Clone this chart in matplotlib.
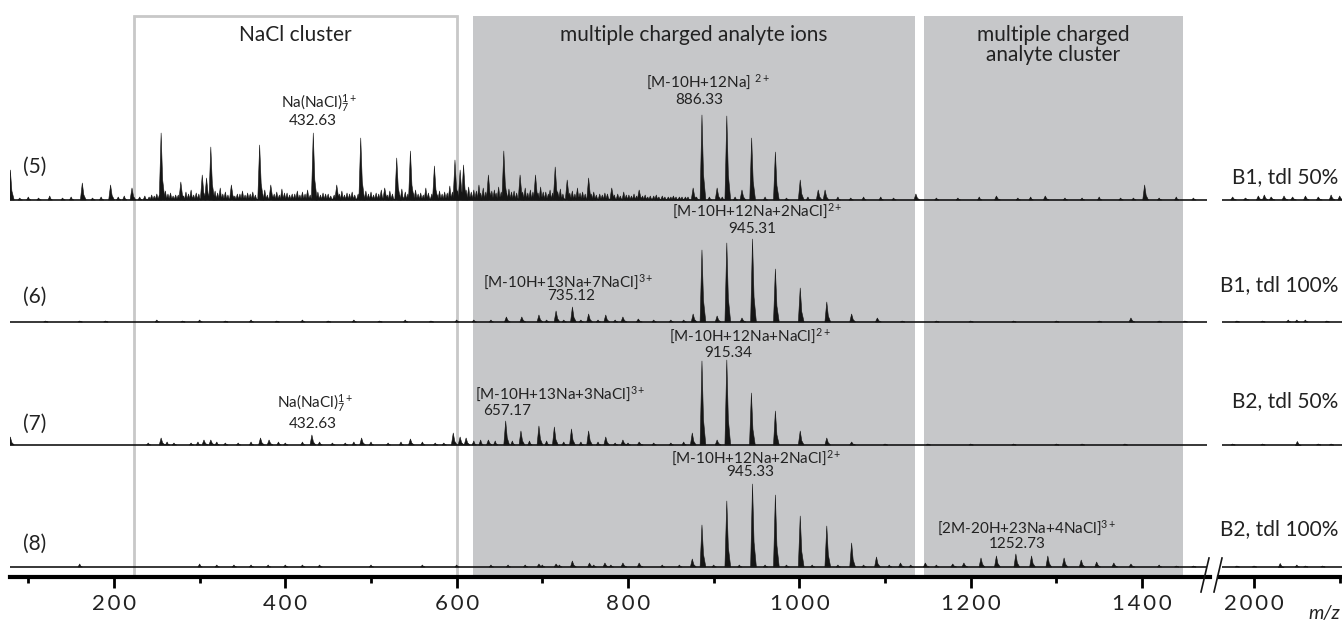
import numpy as np
import matplotlib
matplotlib.use("Agg")
import matplotlib.pyplot as plt
from matplotlib.lines import Line2D
from matplotlib.patches import Rectangle
from matplotlib.collections import PolyCollection
from matplotlib.ticker import FuncFormatter

plt.rcParams["font.family"] = ["Lato", "DejaVu Sans"]
plt.rcParams["mathtext.fontset"] = "custom"
plt.rcParams["mathtext.rm"] = "Lato"
plt.rcParams["mathtext.it"] = "Lato:italic"
plt.rcParams["mathtext.bf"] = "Lato:bold"

W, H = 1342, 621

# ── data: (m/z, intensity) of the peaks, per spectrum ─────────
PEAKS_5 = [(79, 30), (163, 17), (196, 15), (221, 12), (255, 67), (278, 18), (303, 25), (308, 22),
           (313, 53), (337, 15), (370, 55), (383, 15), (432.6, 67), (460, 15), (488, 62), (516, 12),
           (530, 42), (546, 49), (574, 34), (598, 40), (604, 30), (608, 35), (637, 25), (655, 49),
           (674, 25), (692, 25), (715, 33), (729, 20), (754, 22), (781, 12), (813, 10), (876, 12),
           (886.3, 85), (904, 12), (915.3, 84), (933, 10), (944.3, 62), (972, 48), (1001, 20),
           (1022, 10), (1030, 10), (1136, 6), (1230, 4), (1287, 4), (1403, 15),
           (1975, 3), (1990, 2), (2005, 4), (2012, 5), (2020, 3), (2035, 4), (2045, 3), (2060, 4),
           (2075, 3), (2090, 5), (2100, 4)]
NOISE_5 = [(90, 2), (100, 3), (112, 2), (125, 4), (140, 2), (150, 3), (175, 2), (185, 3), (205, 3),
           (212, 4), (230, 3), (236, 4), (244, 5), (250, 6), (260, 9), (266, 7), (272, 5), (284, 8),
           (290, 10), (296, 7), (318, 9), (324, 12), (330, 8), (344, 6), (350, 9), (356, 7), (362, 8),
           (376, 10), (390, 8), (396, 11), (402, 7), (408, 6), (414, 9), (420, 8), (426, 10), (438, 8),
           (444, 7), (450, 6), (466, 9), (472, 7), (478, 8), (494, 9), (500, 8), (506, 7), (512, 10),
           (522, 9), (536, 11), (540, 8), (552, 10), (558, 7), (564, 12), (580, 9), (586, 8), (592, 14),
           (614, 13), (620, 10), (626, 15), (631, 12), (644, 10), (649, 13), (661, 11), (667, 9),
           (680, 12), (686, 10), (698, 13), (704, 8), (709, 10), (721, 11), (735, 9), (741, 12),
           (747, 8), (760, 8), (767, 6), (773, 7), (788, 6), (795, 8), (801, 5), (807, 6), (820, 5),
           (826, 4), (833, 5), (840, 4), (847, 3), (853, 4), (860, 3), (867, 3), (895, 3), (910, 3),
           (925, 3), (960, 3), (985, 2), (1010, 3), (1045, 3), (1060, 2), (1075, 3), (1095, 3),
           (1110, 2), (1160, 2), (1185, 2), (1210, 3), (1255, 2), (1270, 3), (1310, 2), (1330, 2),
           (1350, 3), (1375, 2), (1390, 2), (1420, 2), (1440, 3), (1460, 2)]
NOISE_5B = [(241, 3), (247, 4), (253, 5), (263, 6), (269, 4), (275, 5), (281, 4), (287, 6), (293, 5),
            (299, 6), (316, 5), (321, 7), (327, 6), (333, 5), (341, 4), (347, 6), (353, 5), (359, 6),
            (365, 5), (373, 6), (379, 5), (387, 6), (393, 5), (399, 7), (405, 5), (411, 6), (417, 5),
            (423, 6), (429, 5), (435, 6), (441, 5), (447, 6), (453, 4), (457, 5), (463, 6), (469, 5),
            (475, 6), (481, 5), (485, 6), (491, 5), (497, 6), (503, 5), (509, 6), (519, 5), (525, 6),
            (533, 5), (543, 6), (549, 7), (555, 6), (561, 5), (567, 7), (571, 6), (577, 5), (583, 6),
            (589, 7), (595, 8), (601, 9), (611, 10), (617, 8), (623, 9), (628, 7), (634, 8), (641, 9),
            (646, 7), (652, 8), (658, 7), (664, 8), (670, 7), (677, 8), (683, 7), (689, 8), (695, 7),
            (701, 8), (707, 6), (712, 7), (718, 8), (724, 6), (732, 7), (738, 6), (744, 7), (750, 6),
            (757, 6), (763, 5), (770, 5), (776, 6), (784, 5), (791, 4), (798, 5), (804, 4), (810, 4),
            (817, 4), (823, 3), (830, 4), (836, 3), (843, 3), (850, 3), (856, 3), (863, 3), (870, 3),
            (880, 3)]

PEAKS_6 = [(658, 5), (676, 5), (696, 7), (716, 11), (735.1, 15), (754, 8), (774, 7), (794, 5),
           (812, 3), (876, 8), (886.3, 72), (904, 6), (915.3, 79), (933, 4), (945.3, 83), (972, 53),
           (1001, 34), (1032, 20), (1061, 8), (1091, 4), (1387, 4)]
NOISE_6 = [(120, 1), (160, 1), (190, 1), (250, 2), (280, 1), (300, 2), (330, 1), (360, 2), (390, 1),
           (420, 2), (450, 1), (480, 2), (510, 1), (540, 2), (570, 1), (600, 2), (620, 2), (640, 2),
           (705, 2), (725, 2), (745, 2), (765, 2), (785, 2), (830, 2), (850, 2), (865, 2), (1120, 1),
           (1160, 1), (1200, 1), (1250, 1), (1300, 1), (1350, 1), (1420, 1), (1450, 1),
           (1980, 1), (2010, 1), (2040, 2), (2050, 2), (2060, 2), (2085, 1)]

PEAKS_7 = [(79, 8), (255, 7), (305, 5), (313, 5), (371, 7), (381, 5), (431, 10), (489, 7), (546, 6),
           (596, 12), (604, 8), (611, 7), (637, 5), (657.2, 24), (675, 14), (696, 19), (714, 18),
           (734, 16), (754, 14), (774, 8), (794, 5), (813, 3), (875, 12), (886.3, 84), (904, 5),
           (915.3, 85), (944, 52), (972, 34), (1001, 14), (1032, 7), (1061, 3), (2050, 4)]
NOISE_7 = [(240, 2), (262, 3), (270, 2), (290, 2), (298, 3), (320, 3), (330, 2), (345, 2), (360, 3),
           (392, 3), (400, 2), (420, 3), (440, 3), (455, 2), (470, 2), (480, 3), (500, 3), (520, 2),
           (535, 3), (560, 3), (575, 2), (585, 2), (620, 4), (628, 5), (645, 4), (665, 4), (685, 4),
           (705, 4), (725, 3), (745, 3), (765, 3), (785, 2), (800, 2), (830, 2), (850, 2), (865, 3),
           (1100, 1), (1150, 1), (1200, 1), (1250, 1), (1300, 1), (1330, 1), (1380, 1),
           (1975, 1), (2010, 1), (2075, 1), (2090, 1)]

PEAKS_8 = [(696, 3), (716, 3), (735, 6), (755, 4), (773, 4), (794, 4), (813, 4), (875, 8), (886.3, 42),
           (915.3, 66), (945.3, 83), (972, 72), (1001, 51), (1032, 41), (1061, 24), (1090, 10),
           (1118, 4), (1147, 4), (1179, 3), (1192, 4), (1212, 9), (1230, 11), (1252.7, 13),
           (1271, 11), (1290, 11), (1309, 9), (1329, 7), (1347, 5), (1367, 4), (1387, 3), (2030, 4)]
NOISE_8 = [(160, 3), (300, 3), (320, 2), (340, 2), (360, 2), (380, 2), (400, 2), (420, 2), (440, 2),
           (500, 2), (560, 2), (600, 2), (640, 2), (660, 2), (680, 2), (700, 2), (720, 2), (760, 2),
           (780, 2), (840, 2), (860, 2), (900, 2), (930, 2), (960, 2), (985, 2), (1015, 2), (1045, 2),
           (1075, 2), (1105, 2), (1130, 2), (1160, 2), (1420, 2), (1440, 1), (1460, 1),
           (1980, 1), (2000, 1), (2050, 2), (2060, 1), (2080, 1)]

TRACES = [PEAKS_5, PEAKS_6, PEAKS_7, PEAKS_8]
NOISES = [NOISE_5 + NOISE_5B, NOISE_6, NOISE_7, NOISE_8]
TRACE_IDS = ["(5)", "(6)", "(7)", "(8)"]
CONDITIONS = ["B1, tdl 50%", "B1, tdl 100%", "B2, tdl 50%", "B2, tdl 100%"]

# regions (m/z)
REGION_NACL = (223.3, 600.4)
REGION_IONS = (619.0, 1135.0)
REGION_CLUSTER = (1145.5, 1447.8)

# peak annotations: (formula, formula m/z, number, number m/z)
ANNOT = [
    (r"Na(NaCl)$_7^{1+}$", 439.3, "432.63", 432.3),
    (r"[M-10H+12Na] $^{2+}$", 893.4, "886.33", 883.4),
    (r"[M-10H+12Na+2NaCl]$^{2+}$", 950.6, "945.31", 944.7),
    (r"[M-10H+13Na+7NaCl]$^{3+}$", 730.0, "735.12", 733.4),
    (r"[M-10H+12Na+NaCl]$^{2+}$", 942.4, "915.34", 916.8),
    (r"[M-10H+13Na+3NaCl]$^{3+}$", 720.6, "657.17", 658.7),
    (r"Na(NaCl)$_7^{1+}$", 434.6, "432.63", 432.3),
    (r"[M-10H+12Na+2NaCl]$^{2+}$", 949.4, "945.33", 942.4),
    (r"[2M-20H+23Na+4NaCl]$^{3+}$", 1265.7, "1252.73", 1254.0),
]

# ── layout (pixel space, y = 0 at axis line) ──────────────────
BASES = [377, 255, 132, 10]
ANNOT_Y = [(474, 456), (495, 477), (366, 348), (295, 281), (241, 224),
           (183, 166), (174, 153), (119, 105), (49, 33)]
ID_Y = [410, 280, 153, 33]
COND_Y = [400, 292, 176, 48]
XL = (78.6, 1479.3)
XR = (1959.1, 2102.7)
TRACE_END_L = 1476
TRACE_START_R = 1962.6
GREY = "#c6c7c9"
INK = "#151515"
TXT = "#222222"


def spikes(peaks, base, lo, hi, left, right):
    # narrow peak outline with a small tail on the high-mass side
    polys = []
    for mz, h in peaks:
        if lo <= mz <= hi:
            polys.append([(mz - left, base), (mz, base + h), (mz + right * 0.4, base + h * 0.3),
                          (mz + right, base)])
    return PolyCollection(polys, facecolors=INK, edgecolors=INK, linewidths=0.4, zorder=3)


fig = plt.figure(figsize=(W / 100, H / 100), dpi=100)
axL = fig.add_axes([10 / W, 1 - 577 / H, 1200 / W, 577 / H])
axR = fig.add_axes([1219 / W, 1 - 577 / H, 123 / W, 577 / H])

spaced = FuncFormatter(lambda v, p: "\u2009".join(f"{v:.0f}"))
for ax, xl in ((axL, XL), (axR, XR)):
    ax.set_xlim(*xl)
    ax.set_ylim(0, 577)
    ax.patch.set_alpha(0)
    for s in ("top", "left", "right"):
        ax.spines[s].set_visible(False)
    ax.spines["bottom"].set_linewidth(3.0)
    ax.set_yticks([])
    ax.tick_params(axis="x", which="major", length=8, width=2, pad=4, labelsize=16, labelcolor=TXT)
    ax.tick_params(axis="x", which="minor", length=4, width=2)

axL.set_xticks([200, 400, 600, 800, 1000, 1200, 1400])
axL.set_xticks([100, 300, 500, 700, 900, 1100, 1300], minor=True)
axR.set_xticks([2000])
axR.set_xticks([2100], minor=True)
axL.xaxis.set_major_formatter(spaced)
axR.xaxis.set_major_formatter(spaced)

# shaded regions
top = (577 - 16) / 577
axL.axvspan(*REGION_IONS, ymin=0, ymax=top, color=GREY, lw=0, zorder=0)
axL.axvspan(*REGION_CLUSTER, ymin=0, ymax=top, color=GREY, lw=0, zorder=0)
axL.add_patch(Rectangle((REGION_NACL[0], 0), REGION_NACL[1] - REGION_NACL[0], 577 - 16,
                        fill=False, edgecolor="#c8c8c8", lw=2, zorder=0))

axL.text(np.mean(REGION_NACL), 577 - 35, "NaCl cluster", ha="center", va="center", fontsize=15, color=TXT)
axL.text(np.mean(REGION_IONS), 577 - 35, "multiple charged analyte ions", ha="center", va="center",
         fontsize=15, color=TXT)
axL.text(np.mean(REGION_CLUSTER), 577 - 45, "multiple charged\nanalyte cluster", ha="center", va="center",
         fontsize=15, color=TXT, linespacing=0.95)

# spectra
for i, (peaks, noise) in enumerate(zip(TRACES, NOISES)):
    base = BASES[i]
    for ax, lo, hi in ((axL, XL[0], TRACE_END_L), (axR, TRACE_START_R, XR[1])):
        ax.hlines(base, lo, hi, color=INK, lw=1.2, zorder=2)
        ax.add_collection(spikes(peaks, base, lo, hi, 2.2, 4.5))
        ax.add_collection(spikes(noise, base, lo, hi, 2.0, 3.0))
    axL.text(XL[0] + 15, ID_Y[i], TRACE_IDS[i], ha="left", va="center", fontsize=15, color=TXT)
    axR.text(XR[1] - 4, COND_Y[i], CONDITIONS[i], ha="right", va="center", fontsize=15,
             color=TXT, clip_on=False)

# annotations
for (formula, fx, number, nx), (fy, ny) in zip(ANNOT, ANNOT_Y):
    axL.text(fx, fy, formula, ha="center", va="center", fontsize=11, color=TXT)
    axL.text(nx, ny, number, ha="center", va="center", fontsize=11, color=TXT)

# axis break marks
for x0 in (1201, 1214):
    fig.add_artist(Line2D([x0 / W, (x0 + 8) / W], [1 - 592 / H, 1 - 558 / H], color=INK, lw=1.2))

fig.text(1340 / W, 1 - 614 / H, "m/z", ha="right", va="center", fontsize=14, style="italic", color=TXT)

fig.savefig("out.png", dpi=100)
